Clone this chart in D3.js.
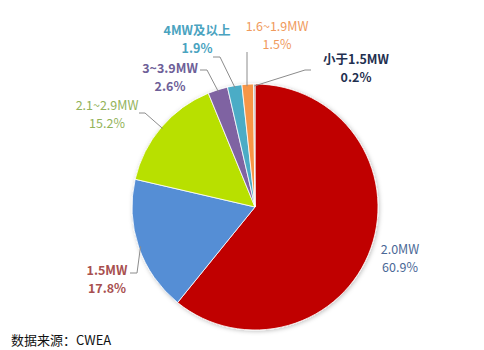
<!DOCTYPE html>
<html>
<head>
<meta charset="utf-8">
<script src="https://cdn.jsdelivr.net/npm/d3@7"></script>
<style>
  body { margin: 0; background: #fff; }
  text { font-family: "Noto Sans CJK SC", "Noto Sans", sans-serif; }
</style>
</head>
<body>
<svg></svg>
<script>
const categories = ["2.0MW", "1.5MW", "2.1~2.9MW", "3~3.9MW", "4MW及以上", "1.6~1.9MW", "小于1.5MW"];
const shares = [60.9, 17.8, 15.2, 2.6, 1.9, 1.5, 0.2];
const sliceColors = ["#c00000", "#558ed5", "#b8e000", "#7f64a2", "#4bacc6", "#f79646", "#a5a5a5"];
const labelColors = ["#4a6896", "#a8504f", "#93b35a", "#6e5f98", "#4aa3bf", "#f09a5c", "#1f3050"];
const labelBold = [false, true, false, true, true, false, true];

// label anchor (name line baseline), leader line elbow and its short tail, relative to pie centre
const labelPos = [[145, 47], [-148, 68], [-148, -97], [-85, -134], [-58, -172], [22, -176], [101, -143]];
const elbow = [null, [-118, 66], [-110, -94], [-48, -137], [-35, -150], [-8, -155], [50, -137]];
const tail = [0, -7, -6, -7, -7, 0, 6];

const w = 484, h = 350;
const cx = 255, cy = 207, r = 123;

const svg = d3.select("svg").attr("width", w).attr("height", h);

const defs = svg.append("defs");
const f = defs.append("filter").attr("id", "shadow")
  .attr("x", "-20%").attr("y", "-20%").attr("width", "140%").attr("height", "140%");
f.append("feDropShadow").attr("dx", 1).attr("dy", 1).attr("stdDeviation", 2)
  .attr("flood-color", "#000").attr("flood-opacity", 0.25);

const g = svg.append("g").attr("transform", `translate(${cx},${cy})`);

const pie = d3.pie().sort(null).value(d => d);
const arcs = pie(shares);
const arc = d3.arc().innerRadius(0).outerRadius(r);
const edgeArc = d3.arc().innerRadius(r - 2).outerRadius(r - 2);

g.append("g").attr("filter", "url(#shadow)")
  .selectAll("path")
  .data(arcs)
  .enter()
  .append("path")
  .attr("d", arc)
  .attr("fill", (d, i) => sliceColors[i])
  .attr("stroke", "#fff")
  .attr("stroke-width", 0.8);

// leader lines
arcs.forEach(function(d, i) {
  if (!elbow[i]) return;
  const p = edgeArc.centroid(d);
  if (i == 5) p[0] = elbow[i][0]; // this one drops straight down
  g.append("polyline")
    .attr("points", [[elbow[i][0] + tail[i], elbow[i][1]], elbow[i], p].map(q => q.join(",")).join(" "))
    .attr("fill", "none")
    .attr("stroke", "#8c8c8c")
    .attr("stroke-width", 1);
});

// labels
const labels = g.selectAll(".lbl")
  .data(arcs)
  .enter()
  .append("text")
  .attr("class", "lbl")
  .attr("text-anchor", "middle")
  .attr("font-size", 12.5)
  .attr("font-weight", (d, i) => labelBold[i] ? "bold" : "normal")
  .attr("fill", (d, i) => labelColors[i]);

labels.append("tspan")
  .attr("x", (d, i) => labelPos[i][0])
  .attr("y", (d, i) => labelPos[i][1])
  .text((d, i) => categories[i]);
labels.append("tspan")
  .attr("x", (d, i) => labelPos[i][0])
  .attr("y", (d, i) => labelPos[i][1] + 18)
  .text((d, i) => shares[i].toFixed(1) + "%");

svg.append("text")
  .attr("x", 11)
  .attr("y", 345)
  .attr("font-size", 13)
  .attr("fill", "#111")
  .text("数据来源：CWEA");
</script>
</body>
</html>
